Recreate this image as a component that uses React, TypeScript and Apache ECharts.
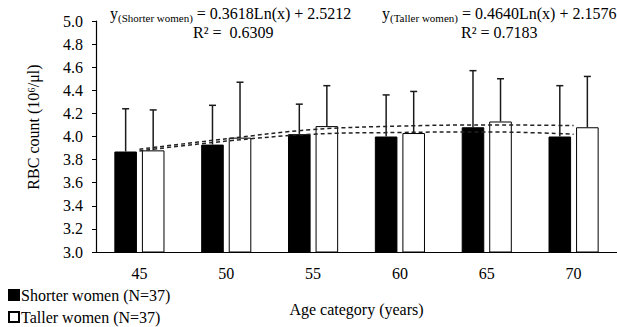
import React, { useEffect, useRef } from "react";
import * as echarts from "echarts";

// Age groups on the x axis
const categories = ["45", "50", "55", "60", "65", "70"];

// Mean RBC count (10^6/µl) per age group
const shorterMean = [3.87, 3.93, 4.02, 4.0, 4.08, 4.0];
const tallerMean = [3.88, 3.99, 4.09, 4.03, 4.13, 4.08];

// Standard deviations (upper error bars only)
const shorterSD = [0.37, 0.34, 0.26, 0.36, 0.49, 0.44];
const tallerSD = [0.35, 0.48, 0.35, 0.36, 0.37, 0.44];

// Fitted trend values at each age group
const shorterTrend = [3.875, 3.96, 4.02, 4.035, 4.04, 4.02];
const tallerTrend = [3.89, 3.98, 4.06, 4.09, 4.1, 4.095];

// Y axis range / step
const yMin = 3.0;
const yMax = 5.0;
const yStep = 0.2;

const SHORTER = "Shorter women (N=37)";
const TALLER = "Taller women (N=37)";

const FONT = "'Liberation Serif', 'Times New Roman', serif";

export default function App() {
  const ref = useRef<HTMLDivElement>(null);

  useEffect(() => {
    if (!ref.current) return;
    const chart = echarts.init(ref.current, undefined, { renderer: "svg" });

    const errData = (means: number[], sds: number[]) =>
      means.map((m, i) => [i, m, +(m + sds[i]).toFixed(3)]);

    const errorSeries = (name: string, means: number[], sds: number[], side: number) => ({
      type: "custom",
      name: name + " SD",
      z: 5,
      data: errData(means, sds),
      renderItem: (params: any, api: any) => {
        const band = api.size([1, 0])[0];
        const off = side * band * 0.1586;
        const base = api.coord([api.value(0), api.value(1)]);
        const top = api.coord([api.value(0), api.value(2)]);
        const x = base[0] + off;
        const cap = 3.5;
        const style = { stroke: "#1a1a1a", lineWidth: 1.5 };
        return {
          type: "group",
          children: [
            { type: "line", shape: { x1: x, y1: base[1], x2: x, y2: top[1] }, style },
            { type: "line", shape: { x1: x - cap, y1: top[1], x2: x + cap, y2: top[1] }, style },
          ],
        };
      },
    });

    const legendBase = {
      left: 8,
      padding: 0,
      itemWidth: 10,
      itemHeight: 10,
      icon: "rect",
      textStyle: {
        fontFamily: FONT,
        fontSize: 16,
        lineHeight: 16,
        color: "#000",
        padding: [0, 0, 0, -3],
      },
    };

    const rich = {
      y: { fontFamily: FONT, fontSize: 16, fill: "#000", verticalAlign: "bottom" },
      s: { fontFamily: FONT, fontSize: 11, fill: "#000", verticalAlign: "bottom", padding: [0, 0, -2, 0] },
      e: { fontFamily: FONT, fontSize: 16, fill: "#000", verticalAlign: "bottom" },
    };

    chart.setOption({
      animation: false,
      textStyle: { fontFamily: FONT },
      grid: { left: 96, right: -4, top: 21, bottom: 75, containLabel: false },
      legend: [
        { ...legendBase, top: 287, data: [SHORTER] },
        { ...legendBase, top: 309, data: [TALLER] },
      ],
      xAxis: {
        type: "category",
        data: categories,
        name: "Age category (years)",
        nameLocation: "middle",
        nameGap: 49,
        nameTextStyle: { fontFamily: FONT, fontSize: 16, color: "#000" },
        axisLine: { lineStyle: { color: "#000", width: 1.2 } },
        axisTick: { inside: true, length: 4, lineStyle: { color: "#000" } },
        axisLabel: { fontFamily: FONT, fontSize: 16, color: "#000", margin: 13 },
      },
      yAxis: {
        type: "value",
        min: yMin,
        max: yMax,
        interval: yStep,
        splitLine: { show: false },
        axisLine: { show: true, lineStyle: { color: "#000", width: 1.2 } },
        axisTick: { show: true, length: 4, lineStyle: { color: "#000" } },
        axisLabel: {
          fontFamily: FONT,
          fontSize: 16,
          color: "#000",
          margin: 13,
          formatter: (v: number) => v.toFixed(1),
        },
      },
      series: [
        {
          type: "bar",
          name: SHORTER,
          data: shorterMean,
          barWidth: "26%",
          barGap: "22%",
          itemStyle: { color: "#000", borderColor: "#000", borderWidth: 1 },
        },
        {
          type: "bar",
          name: TALLER,
          data: tallerMean,
          barWidth: "26%",
          barGap: "22%",
          itemStyle: { color: "#fff", borderColor: "#000", borderWidth: 1 },
        },
        errorSeries("Shorter women", shorterMean, shorterSD, -1),
        errorSeries("Taller women", tallerMean, tallerSD, 1),
        {
          type: "line",
          name: "Shorter trend",
          data: shorterTrend,
          smooth: 0.4,
          symbol: "none",
          z: 6,
          lineStyle: { color: "#222", width: 1.5, type: [4, 3] },
        },
        {
          type: "line",
          name: "Taller trend",
          data: tallerTrend,
          smooth: 0.4,
          symbol: "none",
          z: 6,
          lineStyle: { color: "#222", width: 1.5, type: [4, 3] },
        },
      ],
      graphic: [
        {
          type: "text",
          x: 33,
          y: 127,
          rotation: Math.PI / 2,
          style: {
            text: "RBC count (10⁶/μl)",
            fontFamily: FONT,
            fontSize: 16,
            fill: "#000",
            align: "center",
            verticalAlign: "middle",
          },
        },
        {
          type: "text",
          left: 110,
          top: 5,
          style: { text: "{y|y}{s|(Shorter women)}{e| = 0.3618Ln(x) + 2.5212}", rich },
        },
        {
          type: "text",
          left: 193,
          top: 24,
          style: { text: "R² =  0.6309", fontFamily: FONT, fontSize: 16, fill: "#000" },
        },
        {
          type: "text",
          left: 382,
          top: 5,
          style: { text: "{y|y}{s|(Taller women)}{e| = 0.4640Ln(x) + 2.1576}", rich },
        },
        {
          type: "text",
          left: 461,
          top: 24,
          style: { text: "R² = 0.7183", fontFamily: FONT, fontSize: 16, fill: "#000" },
        },
      ],
    });

    return () => chart.dispose();
  }, []);

  return (
    <div
      ref={ref}
      style={{ position: "fixed", left: 0, top: 0, width: 617, height: 327, background: "#fff" }}
    />
  );
}
